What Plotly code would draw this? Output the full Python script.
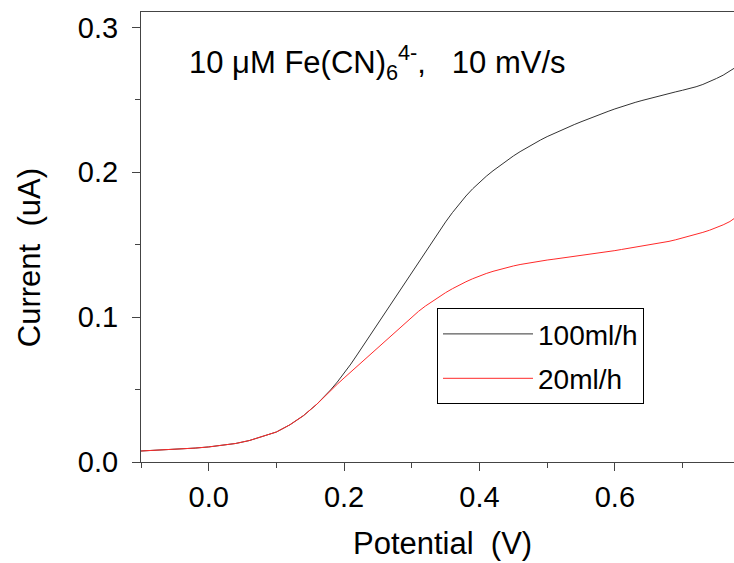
import plotly.graph_objects as go

# Potential (V)
potential = [-0.10, -0.08, -0.06, -0.04, -0.02, 0.00, 0.02, 0.04, 0.06, 0.08,
             0.10, 0.12, 0.14, 0.16, 0.17, 0.18, 0.19, 0.20, 0.21, 0.22,
             0.23, 0.24, 0.25, 0.26, 0.27, 0.28, 0.29, 0.30, 0.31, 0.32,
             0.33, 0.34, 0.35, 0.36, 0.37, 0.38, 0.39, 0.40, 0.41, 0.42,
             0.43, 0.44, 0.45, 0.46, 0.47, 0.48, 0.49, 0.50, 0.51, 0.52,
             0.53, 0.54, 0.55, 0.56, 0.57, 0.58, 0.59, 0.60, 0.61, 0.62,
             0.63, 0.64, 0.65, 0.66, 0.67, 0.68, 0.69, 0.70, 0.71, 0.72,
             0.73, 0.74, 0.75, 0.76, 0.77, 0.776]

# Current (uA), 100 ml/h
current_100 = [0.0076, 0.0080, 0.0085, 0.0090, 0.0096, 0.0104, 0.0114, 0.0128, 0.0148, 0.0175,
               0.0207, 0.0257, 0.0320, 0.0400, 0.0445, 0.0497, 0.0552, 0.0610, 0.0676, 0.0745,
               0.0815, 0.0885, 0.0956, 0.1027, 0.1098, 0.1168, 0.1239, 0.1310, 0.1381, 0.1451,
               0.1521, 0.1590, 0.1657, 0.1721, 0.1781, 0.1836, 0.1886, 0.1931, 0.1972, 0.2010,
               0.2046, 0.2080, 0.2112, 0.2142, 0.2170, 0.2197, 0.2222, 0.2246, 0.2268, 0.2289,
               0.2309, 0.2329, 0.2348, 0.2367, 0.2385, 0.2403, 0.2420, 0.2437, 0.2453, 0.2468,
               0.2482, 0.2495, 0.2508, 0.2520, 0.2532, 0.2544, 0.2555, 0.2566, 0.2577, 0.2590,
               0.2606, 0.2625, 0.2647, 0.2670, 0.2698, 0.2717]

# Current (uA), 20 ml/h
current_20 = [0.0076, 0.0080, 0.0085, 0.0090, 0.0096, 0.0104, 0.0114, 0.0128, 0.0148, 0.0175,
              0.0207, 0.0257, 0.0320, 0.0400, 0.0448, 0.0493, 0.0537, 0.0580, 0.0622, 0.0664,
              0.0706, 0.0748, 0.0790, 0.0832, 0.0874, 0.0916, 0.0958, 0.1000, 0.1040, 0.1076,
              0.1109, 0.1140, 0.1169, 0.1196, 0.1221, 0.1244, 0.1265, 0.1284, 0.1301, 0.1316,
              0.1330, 0.1342, 0.1353, 0.1363, 0.1372, 0.1380, 0.1387, 0.1394, 0.1400, 0.1406,
              0.1412, 0.1418, 0.1424, 0.1430, 0.1436, 0.1443, 0.1451, 0.1459, 0.1467, 0.1475,
              0.1482, 0.1489, 0.1496, 0.1504, 0.1513, 0.1523, 0.1534, 0.1546, 0.1558, 0.1571,
              0.1585, 0.1600, 0.1617, 0.1637, 0.1660, 0.1680]

series_names = ["100ml/h", "20ml/h"]
x_ticks = [0.0, 0.2, 0.4, 0.6]
y_ticks = [0.0, 0.1, 0.2, 0.3]
annotation_text = "10 μM Fe(CN)<sub>6</sub><sup>4-</sup>,&nbsp;&nbsp;&nbsp;10 mV/s"
x_title = "Potential&nbsp;&nbsp;(V)"
y_title = "Current&nbsp;&nbsp;(uA)"

FONT = "Arial, 'Liberation Sans', sans-serif"

fig = go.Figure()
fig.add_trace(go.Scatter(x=potential, y=current_100, mode="lines", name=series_names[0],
                         line=dict(color="#333333", width=1), legendgroup="a"))
fig.add_trace(go.Scatter(x=potential, y=current_20, mode="lines", name=series_names[1],
                         line=dict(color="#ff2a2a", width=1), legendgroup="b"))

fig.update_layout(
    width=734, height=563,
    margin=dict(l=141, r=0, t=12, b=101),
    plot_bgcolor="white", paper_bgcolor="white",
    font=dict(family=FONT, color="black", size=28),
    showlegend=True,
    legend=dict(x=(437 - 141) / 593, y=(461.7 - 308) / 449.7, xanchor="left", yanchor="top",
                bordercolor="black", borderwidth=1, bgcolor="white",
                font=dict(size=28, family=FONT), tracegroupgap=5,
                itemwidth=90),
    xaxis=dict(range=[-0.1, 0.776], tickvals=x_ticks, ticktext=[f"{v:.1f}" for v in x_ticks],
               ticks="outside", ticklen=8, tickwidth=1, tickcolor="#444",
               showline=True, linecolor="#444", linewidth=1, mirror=True,
               showgrid=False, zeroline=False, ticklabelstandoff=1,
               minor=dict(dtick=0.1, tick0=-0.1, ticks="outside", ticklen=5, tickcolor="#444", showgrid=False),
               tickfont=dict(size=29)),
    yaxis=dict(range=[0, 0.3106], tickvals=y_ticks, ticktext=[f"{v:.1f}" for v in y_ticks],
               ticks="outside", ticklen=8, tickwidth=1, tickcolor="#444",
               showline=True, linecolor="#444", linewidth=1, mirror=False,
               showgrid=False, zeroline=False, ticklabelstandoff=8,
               minor=dict(dtick=0.05, tick0=0, ticks="outside", ticklen=5, tickcolor="#444", showgrid=False),
               tickfont=dict(size=29)),
    annotations=[
        dict(text=annotation_text, xref="paper", yref="paper", x=(187 - 141) / 593, y=(461.7 - 62) / 449.7,
             xanchor="left", yanchor="middle", showarrow=False, font=dict(size=31, family=FONT)),
        dict(text=x_title, xref="paper", yref="paper", x=(443 - 141) / 593, y=(461.7 - 543) / 449.7,
             xanchor="center", yanchor="middle", showarrow=False, font=dict(size=31, family=FONT)),
        dict(text=y_title, xref="paper", yref="paper", x=(29 - 141) / 593, y=(461.7 - 258) / 449.7,
             xanchor="center", yanchor="middle", textangle=-90, showarrow=False, font=dict(size=31, family=FONT)),
    ],
)

fig.write_html("out.html")
